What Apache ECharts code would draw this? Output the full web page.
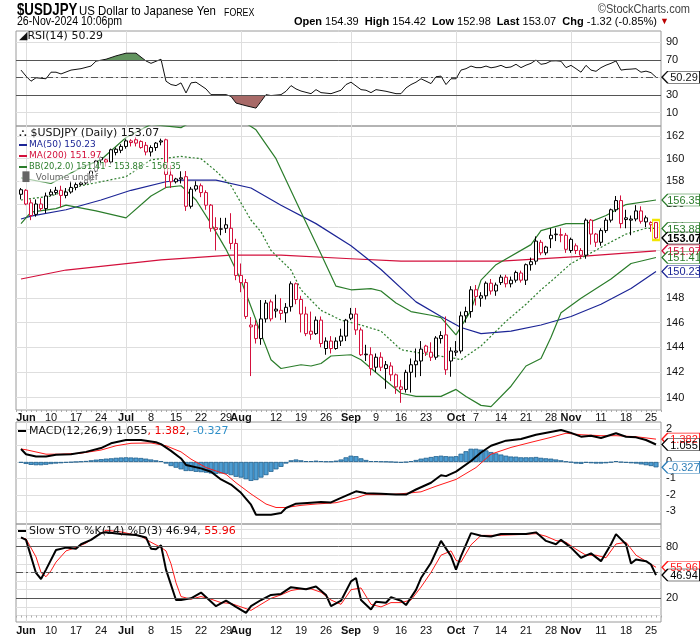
<!DOCTYPE html>
<html><head><meta charset="utf-8">
<script src="https://cdn.jsdelivr.net/npm/echarts@6/dist/echarts.min.js"></script>
<style>html,body{margin:0;padding:0;background:#fff}#c{width:700px;height:639px}</style>
</head><body><div id="c"></div>
<script>
// ---------- DATA ----------
const dates = ['05-31',
'06-03','06-04','06-05','06-06','06-07','06-10','06-11','06-12','06-13','06-14','06-17','06-18','06-19','06-20','06-21','06-24','06-25','06-26','06-27','06-28',
'07-01','07-02','07-03','07-04','07-05','07-08','07-09','07-10','07-11','07-12','07-15','07-16','07-17','07-18','07-19','07-22','07-23','07-24','07-25','07-26','07-29','07-30','07-31',
'08-01','08-02','08-05','08-06','08-07','08-08','08-09','08-12','08-13','08-14','08-15','08-16','08-19','08-20','08-21','08-22','08-23','08-26','08-27','08-28','08-29','08-30',
'09-02','09-03','09-04','09-05','09-06','09-09','09-10','09-11','09-12','09-13','09-16','09-17','09-18','09-19','09-20','09-23','09-24','09-25','09-26','09-27','09-30',
'10-01','10-02','10-03','10-04','10-07','10-08','10-09','10-10','10-11','10-14','10-15','10-16','10-17','10-18','10-21','10-22','10-23','10-24','10-25','10-28','10-29','10-30','10-31',
'11-01','11-04','11-05','11-06','11-07','11-08','11-11','11-12','11-13','11-14','11-15','11-18','11-19','11-20','11-21','11-22','11-25','11-26'];

// open, close, low, high
const ohlc = [
[156.85,157.25,156.4,157.4],
[157.2,156.0,155.9,157.3],[156.1,155.0,154.6,156.4],[155.1,156.0,154.9,156.4],[156.0,155.6,155.4,156.5],[155.6,156.7,155.2,157.0],
[156.8,157.05,156.7,157.3],[157.0,157.2,156.8,157.5],[157.2,156.75,155.7,157.6],[156.75,157.05,156.5,157.4],[157.05,157.45,156.9,158.0],
[157.45,157.7,157.2,157.9],[157.7,157.85,157.6,158.0],[157.85,158.1,157.7,158.2],[158.1,158.9,157.9,159.0],[158.9,159.8,158.8,159.9],
[160.1,159.9,159.4,160.2],[159.9,159.7,159.3,160.0],[159.7,160.8,159.5,160.9],[160.55,160.85,160.3,161.0],[160.75,161.1,160.5,161.3],
[161.1,161.6,160.9,161.75],[161.6,161.45,161.1,161.75],[161.7,161.4,161.1,161.95],[161.55,161.0,160.9,161.65],[161.2,160.6,160.3,161.5],
[160.6,161.0,160.2,161.2],[161.0,161.4,160.7,161.5],[161.6,161.5,161.2,161.8],[161.7,158.6,157.4,161.8],[158.55,157.95,157.4,159.4],
[157.95,158.2,157.8,158.3],[158.2,158.3,157.8,158.9],[158.4,155.8,155.4,158.9],[155.8,157.3,155.6,157.5],[157.3,157.6,157.1,158.0],
[157.6,157.0,156.6,157.8],[157.0,155.9,155.5,157.2],[155.9,153.9,153.6,156.0],[153.95,153.8,152.0,154.85],[153.85,153.82,153.3,154.8],
[154.2,153.9,153.5,154.8],[153.9,152.6,152.1,155.2],[152.6,149.9,149.5,153.0],[149.9,149.3,148.5,150.9],[149.3,146.5,146.3,149.6],
[145.65,145.8,141.7,146.45],[145.8,144.7,144.3,146.2],[144.7,146.3,144.2,147.85],[146.3,147.6,146.0,147.85],[147.7,146.3,146.1,147.9],
[147.1,146.95,146.4,148.3],[147.0,146.75,146.2,148.0],[146.8,147.25,146.0,147.6],[147.3,149.2,146.9,149.4],[149.2,147.9,147.5,149.3],
[147.9,146.7,145.2,148.2],[146.7,145.1,144.9,147.3],[145.3,145.05,144.6,146.9],[145.1,146.2,145.0,146.5],[146.2,144.3,144.0,146.5],
[143.9,144.5,143.4,144.8],[144.5,143.9,143.5,144.9],[143.9,144.5,143.8,144.8],[144.5,144.9,144.1,145.5],[144.9,146.2,144.5,146.3],
[146.35,146.7,146.2,147.2],[146.7,145.4,145.0,147.2],[145.4,143.4,143.3,145.6],[143.45,143.4,142.9,144.2],[143.4,142.3,141.75,144.0],
[142.4,143.2,142.0,143.5],[143.2,142.4,142.1,143.6],[142.3,142.6,140.7,142.9],[142.5,141.8,141.3,142.8],[141.8,140.85,140.3,141.9],
[140.85,140.65,139.6,141.4],[140.65,142.0,140.4,142.2],[142.0,142.6,140.4,143.1],[142.6,142.9,141.6,143.9],[142.9,143.85,141.7,144.5],
[144.1,143.6,143.3,144.2],[143.6,143.2,142.9,144.4],[143.2,144.75,143.0,144.9],[144.7,144.95,144.3,145.3],[145.0,142.2,141.8,146.5],
[142.9,143.7,141.65,144.0],
[143.6,143.7,143.3,144.5],[143.7,146.55,143.5,146.9],[146.55,146.9,146.0,147.3],[146.9,148.7,146.4,149.0],
[148.7,148.15,147.4,149.1],[148.0,148.2,147.3,148.5],[148.2,149.25,147.9,149.4],[149.25,148.6,148.3,149.6],[148.6,149.1,148.2,149.3],
[149.3,149.75,149.1,149.95],[149.75,149.2,148.9,149.95],[149.2,149.5,148.9,149.8],[149.5,150.15,149.3,150.3],[150.1,149.5,149.3,150.3],
[149.5,150.8,149.1,150.9],[150.8,151.05,150.3,151.4],[151.1,152.8,150.8,153.2],[152.7,151.8,151.6,152.9],[151.8,152.3,151.6,152.4],
[153.0,153.3,152.2,153.9],[153.4,153.35,152.8,153.9],[153.35,153.3,152.7,153.9],[153.3,152.1,151.8,153.5],
[152.0,152.95,151.8,153.1],
[152.4,152.0,151.7,152.6],[152.0,151.6,151.3,152.2],[151.6,154.6,151.3,154.75],[154.6,153.4,152.5,154.7],[153.4,152.7,152.3,153.5],
[152.7,153.7,152.4,153.9],[153.7,154.6,153.5,154.8],[154.6,155.5,154.4,155.6],[155.5,156.3,155.3,156.7],[156.3,154.3,153.9,156.75],
[154.8,154.65,153.9,155.5],[154.6,154.7,153.3,155.0],[154.7,155.4,154.5,155.9],[155.4,154.5,154.3,155.8],[154.45,154.8,154.0,155.0],
[154.2,154.39,153.6,154.5],[154.39,153.07,152.98,154.42]];

// overlays: [day index, value]
const ma50 = [[0,154.7],[2,154.95],[9,155.5],[16,156.35],[22,157.2],[29,157.95],[32,158.1],[39,158.1],[46,157.4],[52,155.9],[59,154.3],[66,152.4],[72,150.4],[79,147.7],[84,146.5],[88,145.6],[92,145.1],[98,145.3],[104,145.8],[110,146.5],[116,147.5],[122,148.8],[127,150.23]];
const ma200 = [[0,149.6],[9,150.35],[28,151.2],[42,151.6],[52,151.6],[66,151.3],[76,151.1],[96,151.1],[112,151.5],[127,151.97]];
const bbUpper = [[0,158.3],[6,157.8],[12,159.2],[16,159.9],[21,161.9],[26,163.1],[32,162.8],[36,163.8],[40,164.3],[44,163.5],[47,162.6],[51,160.0],[56,155.3],[60,151.7],[63,149.0],[66,148.7],[70,148.8],[72,148.6],[75,147.6],[78,146.9],[82,146.6],[84,146.4],[87,145.0],[90,147.0],[92,149.5],[95,150.8],[102,152.5],[104,153.7],[109,154.3],[113,154.3],[117,155.0],[121,155.95],[127,156.35]];
const bbMid = [[0,156.35],[6,156.7],[12,157.6],[21,158.4],[26,159.9],[32,160.2],[36,160.0],[39,158.9],[42,157.6],[46,154.6],[48,153.6],[50,152.0],[54,150.35],[56,148.7],[60,147.0],[64,146.2],[68,145.8],[72,145.3],[76,143.8],[82,143.4],[87,143.1],[88,143.0],[92,144.1],[97,146.1],[101,147.5],[104,148.7],[106,149.4],[110,150.9],[114,151.8],[117,152.5],[121,153.4],[125,153.9],[127,153.88]];
const bbLower = [[0,154.3],[2,155.3],[7,155.6],[9,155.9],[15,155.4],[21,154.8],[26,156.7],[29,157.45],[32,157.6],[33,157.2],[35,156.35],[38,154.3],[41,152.1],[44,149.5],[46,147.3],[48,145.1],[50,143.0],[52,142.3],[56,142.6],[58,142.5],[60,142.7],[62,143.3],[66,143.4],[68,143.0],[72,141.65],[76,140.35],[79,140.1],[84,140.1],[87,140.65],[89,140.1],[92,139.4],[94,139.3],[98,140.9],[101,142.5],[104,143.1],[106,144.8],[108,146.8],[112,148.0],[118,149.6],[122,150.9],[127,151.41]];

const rsi = [[0,58.4],[1,51.5],[2,45.7],[3,49.6],[5,48.5],[6,56],[7,56],[8,54],[10,58.4],[12,60],[14,63],[15,68.6],[17,70.8],[19,74.6],[21,77.7],[23,77.7],[25,68.8],[26,66.1],[28,70.8],[29,45.7],[30,41.9],[31,40.7],[32,43.8],[33,32.3],[34,43.8],[35,44.6],[37,36.9],[38,30.4],[41,30.4],[42,28.4],[43,20.8],[45,17.7],[47,15],[48,22.6],[49,30.4],[50,29.3],[52,30.4],[53,34.2],[54,40.7],[55,36.9],[56,34.5],[58,31.5],[59,36.1],[60,32.7],[62,31.5],[64,35.4],[65,41.9],[66,44.6],[68,36.1],[69,35.4],[70,32.7],[71,36.1],[73,34.2],[75,31.5],[76,31.5],[77,38],[78,41.9],[79,44.6],[80,48.5],[82,43],[83,50.8],[84,51.5],[85,41.9],[86,48.5],[87,48.5],[88,58.4],[89,60],[90,63],[91,61.2],[92,61.2],[93,63],[94,61],[95,62],[96,63.8],[97,61.2],[98,62],[99,65],[100,61.2],[101,64],[102,66.1],[103,69.9],[104,65],[105,66],[106,68.8],[107,69],[108,68.5],[109,61.2],[110,63.8],[111,60],[112,56],[113,63.8],[114,58.4],[115,57],[116,61.2],[117,64],[118,66.1],[119,68.8],[120,58.4],[121,59.2],[122,59.5],[123,60],[124,56],[125,57.2],[126,55.5],[127,50.29]];

const macd = [[0,0.78],[1,0.47],[3,0.33],[5,0.33],[7,0.43],[10,0.47],[13,0.61],[16,0.84],[18,1.13],[21,1.33],[24,1.33],[27,1.19],[28,1.08],[30,0.67],[32,0.21],[33,-0.18],[36,-0.39],[38,-0.59],[40,-1.06],[42,-1.37],[44,-1.87],[46,-2.59],[47,-3.2],[50,-3.2],[52,-3.1],[53,-2.79],[55,-2.53],[58,-2.47],[60,-2.43],[62,-2.45],[64,-2.18],[67,-1.78],[69,-1.9],[72,-1.93],[75,-1.98],[77,-1.98],[79,-1.67],[82,-1.26],[84,-0.81],[85,-0.86],[87,-0.59],[90,0.06],[92,0.57],[94,0.98],[97,1.29],[100,1.39],[103,1.65],[108,1.94],[110,1.76],[112,1.53],[114,1.59],[116,1.45],[119,1.74],[121,1.53],[123,1.49],[125,1.33],[127,1.055]];
const signal = [[0,0.78],[1,0.74],[5,0.47],[8,0.47],[12,0.53],[16,0.72],[19,0.98],[22,1.13],[26,1.15],[29,0.98],[32,0.61],[34,0.17],[37,-0.34],[41,-0.75],[43,-1.26],[46,-1.94],[49,-2.55],[51,-2.76],[53,-2.76],[56,-2.63],[59,-2.55],[63,-2.47],[67,-2.18],[69,-1.98],[73,-1.98],[76,-1.93],[80,-1.81],[83,-1.47],[87,-1.06],[91,-0.34],[94,0.47],[98,0.88],[102,1.19],[106,1.49],[109,1.74],[112,1.65],[116,1.59],[119,1.59],[123,1.53],[127,1.382]];
const hist = [-0.05,-0.12,-0.18,-0.2,-0.2,-0.17,-0.13,-0.1,-0.08,-0.05,-0.03,0.0,0.03,0.06,0.1,0.14,0.17,0.2,0.22,0.25,0.27,0.28,0.27,0.26,0.24,0.2,0.15,0.1,0.05,-0.1,
-0.25,-0.35,-0.45,-0.55,-0.55,-0.6,-0.62,-0.65,-0.7,-0.72,-0.7,-0.72,-0.8,-0.9,-0.95,-1.05,-1.15,-1.1,-0.95,-0.8,
-0.6,-0.45,-0.3,-0.1,0.1,0.15,0.1,0.05,0.05,0.08,0.05,0.03,0.03,0.08,0.15,0.28,0.38,0.35,0.22,0.12,
0.05,0.05,0.03,0.02,0.0,-0.03,-0.05,-0.02,0.05,0.12,0.2,0.25,0.3,0.35,0.38,0.35,0.33,0.35,0.5,0.65,
0.8,0.8,0.75,0.7,0.6,0.52,0.45,0.38,0.33,0.32,0.28,0.28,0.28,0.3,0.25,0.22,0.2,0.15,0.1,0.03,
-0.03,-0.1,-0.12,-0.05,-0.08,-0.1,-0.1,-0.08,-0.03,0.05,-0.02,-0.05,-0.08,-0.1,-0.15,-0.2,-0.25,-0.327];

const stoK = [[0,90.6],[1,87.8],[3,49.4],[4,42.4],[5,53.3],[7,76],[9,78.8],[11,77.6],[12,82.7],[14,87.8],[16,95.6],[17,96.5],[20,94.5],[23,93.4],[25,90.6],[26,77.6],[27,77],[28,81.5],[29,53.3],[31,18],[32,18],[34,20],[36,26.6],[39,10.9],[41,17.2],[43,10.1],[45,3.1],[46,10.9],[48,18],[50,23.9],[52,25.1],[54,32.9],[57,30.6],[59,33.6],[61,23.9],[62,10.9],[64,17.2],[66,39.6],[67,43.5],[68,18],[70,7.1],[71,16],[73,14.8],[74,21.2],[76,17.2],[77,12.1],[79,29.8],[80,43.5],[82,61.2],[84,86.6],[86,68.9],[87,53.3],[88,68.9],[90,95.6],[92,92.5],[94,91.7],[96,94.5],[99,94.5],[101,94.5],[103,96.5],[105,86.6],[107,82.7],[108,87.8],[110,78.8],[112,67],[114,72.1],[116,63.1],[118,82.7],[119,94.5],[121,82.7],[122,60.4],[123,65],[125,63.1],[126,59.2],[127,46.94]];
const stoD = [[0,90],[1,89],[3,68],[4,50],[5,45],[6,52],[7,62],[9,75],[11,79],[13,84],[15,92],[17,99],[20,97],[24,92],[26,85],[28,79],[29,75],[30,60],[31,38],[32,22],[34,19],[36,22],[38,19],[40,15],[42,14],[44,10],[46,6],[48,13],[50,20],[52,24],[54,29],[56,31],[58,31],[60,27],[62,18],[64,13],[66,30],[68,32],[70,13],[72,10],[74,15],[76,15],[78,18],[80,33],[82,50],[84,70],[86,75],[87,64],[88,62],[90,82],[92,93],[95,93],[100,94],[103,95],[105,92],[107,87],[109,85],[111,77],[113,70],[115,70],[117,67],[119,83],[121,85],[123,70],[125,63],[127,55.96]];

const tickDates = ['06-03','06-10','06-17','06-24','07-01','07-08','07-15','07-22','07-29','08-01','08-12','08-19','08-26','09-02','09-09','09-16','09-23','10-01','10-07','10-14','10-21','10-28','11-01','11-11','11-18','11-25'];
const tickTexts = ['Jun','10','17','24','Jul','8','15','22','29','Aug','12','19','26','Sep','9','16','23','Oct','7','14','21','28','Nov','11','18','25'];
const monthDates = ['06-03','07-01','08-01','09-02','10-01','11-01'];
const priceTicks = [140,142,144,146,148,150,152,154,156,158,160,162];
const rsiTicks = [10,30,70,90];
const macdTicks = [-3,-2,-1,0,1,2];
const stoTicks = [20,80];

// ---------- BUILD ----------
const RED = '#d3103c', NAVY = '#1c2596', GREEN = '#2b7d2b', GRIDC = '#dedede', BORDER = '#9a9a9a';
const cats = [''].concat(dates, ['']);
const tickMap = {}; tickDates.forEach((d, k) => tickMap[d] = tickTexts[k]);
const monthSet = new Set(monthDates);
const pts = arr => arr.map(p => [dates[p[0]], p[1]]);
const last = dates[dates.length - 1];
const lastBar = ohlc[ohlc.length - 1];

const candleData = ohlc.map((d, i) => {
  const prev = i > 0 ? ohlc[i - 1][1] : d[0];
  const col = d[1] < prev ? RED : '#000';
  return { value: [dates[i], d[0], d[1], d[2], d[3]],
           itemStyle: { color: '#fff', color0: col, borderColor: col, borderColor0: col } };
});

const FONT = 'Liberation Sans';
const lbl = { fontSize: 11, color: '#111', fontFamily: FONT, margin: 5 };

function xAx(gi, showLabels, margin) {
  return {
    type: 'category', gridIndex: gi, data: cats, boundaryGap: false,
    axisLine: { show: false },
    axisTick: { show: showLabels, interval: 0, length: 2, lineStyle: { color: '#aaa' } },
    axisLabel: {
      show: showLabels, margin: margin, fontSize: 11, color: '#111', fontFamily: FONT,
      interval: (i, v) => tickMap[v] !== undefined,
      formatter: v => { const t = tickMap[v]; if (t === undefined) return ''; return /[A-Z]/.test(t) ? '{m|' + t + '}' : t; },
      rich: { m: { fontWeight: 'bold', fontSize: 11, fontFamily: FONT, color: '#111' } }
    },
    splitLine: { show: true, interval: (i, v) => monthSet.has(v), lineStyle: { color: GRIDC, width: 1 } }
  };
}
function tagItem(v, color, digits, bold) {
  return {
    coord: [last, v],
    symbol: 'path://M0,6 L6,0 L40,0 L40,12 L6,12 Z', symbolKeepAspect: false,
    symbolSize: [38, 12], symbolOffset: [25, 0],
    itemStyle: { color: '#fff', borderColor: color, borderWidth: 1 },
    label: { show: true, position: 'inside', offset: [3, 1], color: color, fontSize: 11, fontFamily: FONT,
             fontWeight: bold ? 'bold' : 'normal', formatter: () => v.toFixed(digits) }
  };
}
const tag = (v, color, digits, bold) => ({ silent: true, animation: false, data: [tagItem(v, color, digits, bold)] });
const hline = (v, dashed) => ({ yAxis: v, lineStyle: { color: '#555', width: 1, type: dashed ? [7, 3, 2, 3] : 'solid' } });
const lastOf = a => a[a.length - 1][1];

const NARROW = '"Liberation Sans Narrow", "Liberation Sans", sans-serif';
const DV = '"DejaVu Sans", sans-serif';

const option = {
  animation: false,
  backgroundColor: '#fff',
  grid: [
    { left: 16, right: 39, top: 31, height: 95, show: true, borderColor: BORDER, borderWidth: 1 },
    { left: 16, right: 39, top: 126, height: 284, show: true, borderColor: BORDER, borderWidth: 1 },
    { left: 16, right: 39, top: 422, height: 102, show: true, borderColor: BORDER, borderWidth: 1 },
    { left: 16, right: 39, top: 524, height: 98, show: true, borderColor: BORDER, borderWidth: 1 }
  ],
  xAxis: [xAx(0, false, 1), xAx(1, true, 2), xAx(2, false, 1), xAx(3, true, 3)],
  yAxis: [
    { gridIndex: 0, type: 'value', position: 'right', min: -5.4, max: 103, axisLine: { show: false },
      axisTick: { show: false, customValues: [10, 30, 50, 70, 90] }, splitLine: { show: true, lineStyle: { color: GRIDC } },
      axisLabel: Object.assign({ customValues: rsiTicks }, lbl) },
    { gridIndex: 1, type: 'log', logBase: 10, position: 'right', min: 139.04, max: 162.95, axisLine: { show: false },
      axisTick: { show: false, customValues: priceTicks }, splitLine: { show: true, lineStyle: { color: GRIDC } },
      axisLabel: Object.assign({ customValues: priceTicks }, lbl) },
    { gridIndex: 2, type: 'value', position: 'right', min: -3.76, max: 2.42, axisLine: { show: false },
      axisTick: { show: false, customValues: macdTicks }, splitLine: { show: true, lineStyle: { color: GRIDC } },
      axisLabel: Object.assign({ customValues: macdTicks }, lbl) },
    { gridIndex: 3, type: 'value', position: 'right', min: -7.5, max: 106.2, axisLine: { show: false },
      axisTick: { show: false, customValues: [0, 10, 20, 30, 40, 50, 60, 70, 80, 90, 100] }, splitLine: { show: true, lineStyle: { color: GRIDC } },
      axisLabel: Object.assign({ customValues: stoTicks }, lbl) }
  ],
  visualMap: [{ type: 'piecewise', show: false, seriesIndex: 0, dimension: 1,
    pieces: [{ gt: 70, color: '#62945f' }, { lt: 30, color: '#a86a68' }, { gte: 30, lte: 70, color: 'rgba(255,255,255,0)' }] }],
  series: [
    { type: 'line', xAxisIndex: 0, yAxisIndex: 0, data: pts(rsi), symbol: 'none', lineStyle: { width: 0 },
      areaStyle: { origin: 70, opacity: 1 }, z: 1 },
    { type: 'line', xAxisIndex: 0, yAxisIndex: 0, data: pts(rsi), symbol: 'none',
      lineStyle: { color: '#111', width: 1 }, z: 3,
      markLine: { silent: true, symbol: 'none', label: { show: false }, data: [hline(70), hline(30), hline(50, true)] },
      markPoint: tag(lastOf(rsi), '#111', 2, false) },

    { type: 'line', xAxisIndex: 1, yAxisIndex: 1, data: pts(ma200), symbol: 'none', lineStyle: { color: RED, width: 1.2 }, z: 2,
      markPoint: tag(lastOf(ma200), RED, 2, false) },
    { type: 'line', xAxisIndex: 1, yAxisIndex: 1, data: pts(ma50), symbol: 'none', lineStyle: { color: NAVY, width: 1.2 }, z: 2,
      markPoint: tag(lastOf(ma50), NAVY, 2, false) },
    { type: 'line', xAxisIndex: 1, yAxisIndex: 1, data: pts(bbUpper), symbol: 'none', lineStyle: { color: GREEN, width: 1.2 }, z: 2,
      markPoint: tag(lastOf(bbUpper), GREEN, 2, false) },
    { type: 'line', xAxisIndex: 1, yAxisIndex: 1, data: pts(bbMid), symbol: 'none', lineStyle: { color: GREEN, width: 1.2, type: [2, 2] }, z: 2,
      markPoint: tag(lastOf(bbMid), GREEN, 2, false) },
    { type: 'line', xAxisIndex: 1, yAxisIndex: 1, data: pts(bbLower), symbol: 'none', lineStyle: { color: GREEN, width: 1.2 }, z: 2,
      markPoint: tag(lastOf(bbLower), GREEN, 2, false) },
    { type: 'candlestick', xAxisIndex: 1, yAxisIndex: 1, data: candleData, barWidth: 4,
      encode: { x: 0, y: [1, 2, 3, 4] }, z: 4,
      markPoint: { silent: true, animation: false, data: [
        tagItem(lastBar[1], '#000', 2, true),
        { coord: [last, lastBar[2]], symbol: 'rect', symbolSize: [7, 20], symbolOffset: [0, -9],
          itemStyle: { color: 'rgba(0,0,0,0)', borderColor: '#f2e600', borderWidth: 1.5 }, label: { show: false } }
      ] } },

    { type: 'bar', xAxisIndex: 2, yAxisIndex: 2, data: hist.map((v, i) => [dates[i], v]), barWidth: 5,
      itemStyle: { color: '#4d9dd2', borderColor: '#1f5f8d', borderWidth: 0.8 }, z: 1,
      markPoint: tag(hist[hist.length - 1], '#2f7fb8', 3, false) },
    { type: 'line', xAxisIndex: 2, yAxisIndex: 2, data: pts(signal), symbol: 'none', lineStyle: { color: '#ff1a1a', width: 1 }, z: 3,
      markPoint: tag(lastOf(signal), '#ff1a1a', 3, false) },
    { type: 'line', xAxisIndex: 2, yAxisIndex: 2, data: pts(macd), symbol: 'none', lineStyle: { color: '#000', width: 2 }, z: 4,
      markPoint: tag(lastOf(macd), '#000', 3, false) },

    { type: 'line', xAxisIndex: 3, yAxisIndex: 3, data: pts(stoD), symbol: 'none', lineStyle: { color: '#ff1a1a', width: 1 }, z: 3,
      markLine: { silent: true, symbol: 'none', label: { show: false }, data: [hline(80), hline(20), hline(50, true)] },
      markPoint: tag(lastOf(stoD), '#ff1a1a', 2, false) },
    { type: 'line', xAxisIndex: 3, yAxisIndex: 3, data: pts(stoK), symbol: 'none', lineStyle: { color: '#000', width: 2 }, z: 4,
      markPoint: tag(lastOf(stoK), '#000', 2, false) }
  ],
  graphic: [
    { type: 'text', x: 17, y: 2, scaleX: 0.78, z: 100, style: { text: '$USDJPY', font: 'bold 17px ' + NARROW, fill: '#000' } },
    { type: 'text', x: 79, y: 5, scaleX: 0.88, z: 100, style: { text: 'US Dollar to Japanese Yen', font: '13px ' + NARROW, fill: '#000' } },
    { type: 'text', x: 224, y: 7, scaleX: 0.8, z: 100, style: { text: 'FOREX', font: '11px ' + NARROW, fill: '#000' } },
    { type: 'text', x: 690, y: 4, scaleX: 0.92, z: 100, style: { text: '\u00A9StockCharts.com', align: 'right', font: '12px ' + NARROW, fill: '#444' } },
    { type: 'text', x: 17, y: 16, scaleX: 0.88, z: 100, style: { text: '26-Nov-2024 10:06pm', font: '12px ' + NARROW, fill: '#000' } },
    { type: 'text', x: 669, y: 16, z: 100, style: { align: 'right',
      text: '{b|Open} 154.39  {b|High} 154.42  {b|Low} 152.98  {b|Last} 153.07  {b|Chg} -1.32 (-0.85%) {r|\u25BC}',
      font: '11px ' + NARROW, fill: '#000',
      rich: { b: { font: 'bold 11px ' + NARROW, fill: '#000' }, r: { fill: '#b00', fontSize: 9 } } } },

    { type: 'text', x: 19, y: 36, z: 100, style: { text: '\u25E2RSI(14) 50.29', font: '11px ' + DV, fill: '#111', verticalAlign: 'middle' } },

    { type: 'text', x: 19, y: 133, z: 100, style: { text: '\u26EC $USDJPY (Daily) 153.07', font: '11px ' + DV, fill: '#111', verticalAlign: 'middle', backgroundColor: 'rgba(255,255,255,0.6)' } },
    { type: 'rect', z: 100, shape: { x: 19, y: 144, width: 8, height: 2 }, style: { fill: NAVY } },
    { type: 'text', x: 29, y: 145, z: 100, style: { text: 'MA(50) 150.23', font: '9px ' + DV, fill: NAVY, verticalAlign: 'middle', backgroundColor: 'rgba(255,255,255,0.6)' } },
    { type: 'rect', z: 100, shape: { x: 19, y: 155, width: 8, height: 2 }, style: { fill: RED } },
    { type: 'text', x: 29, y: 156, z: 100, style: { text: 'MA(200) 151.97', font: '9px ' + DV, fill: RED, verticalAlign: 'middle', backgroundColor: 'rgba(255,255,255,0.6)' } },
    { type: 'rect', z: 100, shape: { x: 19, y: 166, width: 8, height: 2 }, style: { fill: GREEN } },
    { type: 'text', x: 29, y: 167, scaleX: 0.93, z: 100, style: { text: 'BB(20,2.0) 151.41 - 153.88 - 156.35', font: '9px ' + DV, fill: GREEN, verticalAlign: 'middle', backgroundColor: 'rgba(255,255,255,0.6)' } },
    { type: 'text', x: 19, y: 178, z: 100, style: { text: '\u2590\u258C Volume undef', font: '9px ' + DV, fill: '#666', verticalAlign: 'middle', backgroundColor: 'rgba(255,255,255,0.6)' } },

    { type: 'rect', z: 100, shape: { x: 18, y: 430, width: 8, height: 2 }, style: { fill: '#000' } },
    { type: 'text', x: 29, y: 431, z: 100, style: { text: 'MACD(12,26,9) 1.055{r|, 1.382}{k|, }{bl|-0.327}', font: '11px ' + DV, fill: '#111', verticalAlign: 'middle',
      rich: { r: { fill: '#e00', font: '11px ' + DV }, k: { fill: '#111', font: '11px ' + DV }, bl: { fill: '#2f8fc8', font: '11px ' + DV } } } },
    { type: 'rect', z: 100, shape: { x: 18, y: 530, width: 8, height: 2 }, style: { fill: '#000' } },
    { type: 'text', x: 29, y: 531, z: 100, style: { text: 'Slow STO %K(14) %D(3) 46.94, {r|55.96}', font: '11px ' + DV, fill: '#111', verticalAlign: 'middle',
      rich: { r: { fill: '#e00', font: '11px ' + DV } } } }
  ]
};
const chart = echarts.init(document.getElementById('c'));
chart.setOption(option);
</script></body></html>
